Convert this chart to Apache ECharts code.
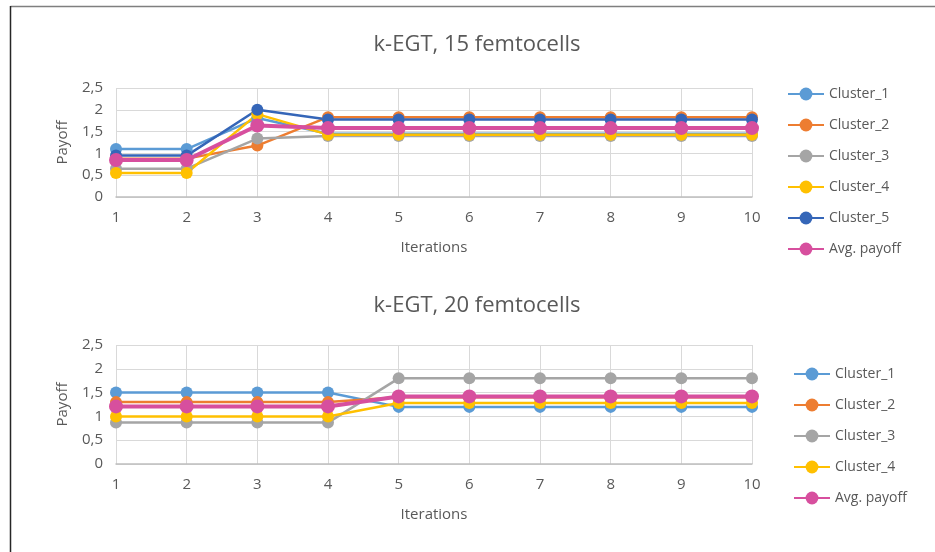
<!DOCTYPE html>
<html>
<head>
<meta charset="utf-8">
<script src="https://cdn.jsdelivr.net/npm/echarts@6/dist/echarts.min.js"></script>
<style>
  html, body { margin: 0; padding: 0; background: #fff; }
  #chart { width: 935px; height: 552px; }
</style>
</head>
<body>
<div id="chart"></div>
<script>
// Iterations on the x axis (shared by both panels)
const iterations = ['1', '2', '3', '4', '5', '6', '7', '8', '9', '10'];

// Panel 1: 15 femtocells
const title15 = 'k-EGT, 15 femtocells';
const c15_cluster1 = [1.10, 1.10, 1.81, 1.45, 1.45, 1.45, 1.45, 1.45, 1.45, 1.45];
const c15_cluster2 = [0.88, 0.88, 1.18, 1.83, 1.83, 1.83, 1.83, 1.83, 1.83, 1.83];
const c15_cluster3 = [0.65, 0.65, 1.34, 1.40, 1.40, 1.40, 1.40, 1.40, 1.40, 1.40];
const c15_cluster4 = [0.55, 0.55, 1.90, 1.43, 1.43, 1.43, 1.43, 1.43, 1.43, 1.43];
const c15_cluster5 = [0.95, 0.95, 2.00, 1.78, 1.78, 1.78, 1.78, 1.78, 1.78, 1.78];
const c15_avg      = [0.85, 0.85, 1.64, 1.58, 1.58, 1.58, 1.58, 1.58, 1.58, 1.58];

// Panel 2: 20 femtocells
const title20 = 'k-EGT, 20 femtocells';
const c20_cluster1 = [1.50, 1.50, 1.50, 1.50, 1.20, 1.20, 1.20, 1.20, 1.20, 1.20];
const c20_cluster2 = [1.30, 1.30, 1.30, 1.30, 1.40, 1.40, 1.40, 1.40, 1.40, 1.40];
const c20_cluster3 = [0.87, 0.87, 0.87, 0.87, 1.80, 1.80, 1.80, 1.80, 1.80, 1.80];
const c20_cluster4 = [1.00, 1.00, 1.00, 1.00, 1.28, 1.28, 1.28, 1.28, 1.28, 1.28];
const c20_avg      = [1.21, 1.21, 1.21, 1.21, 1.42, 1.42, 1.42, 1.42, 1.42, 1.42];

const seriesNames = ['Cluster_1', 'Cluster_2', 'Cluster_3', 'Cluster_4', 'Cluster_5', 'Avg. payoff'];
const colors = {
  'Cluster_1': '#5B9BD5',
  'Cluster_2': '#ED7D31',
  'Cluster_3': '#A5A5A5',
  'Cluster_4': '#FFC000',
  'Cluster_5': '#3566B8',
  'Avg. payoff': '#D74F9E'
};

const FONT = 'Open Sans';
const TXT = '#595959';
const GRIDC = '#D9D9D9';

function makeSeries(name, data, idx) {
  const avg = name === 'Avg. payoff';
  return {
    name: name,
    type: 'line',
    xAxisIndex: idx,
    yAxisIndex: idx,
    data: data,
    symbol: 'circle',
    symbolSize: avg ? 14 : 12,
    showSymbol: true,
    color: colors[name],
    lineStyle: { width: avg ? 4 : 2.5, color: colors[name] },
    itemStyle: { color: colors[name] },
    emphasis: { disabled: true },
    animation: false,
    z: avg ? 5 : 3
  };
}

function xAxis(idx) {
  return {
    type: 'category',
    gridIndex: idx,
    data: iterations,
    boundaryGap: false,
    name: 'Iterations',
    nameLocation: 'middle',
    nameGap: 43,
    nameTextStyle: { fontFamily: FONT, fontSize: 15, color: TXT },
    axisLine: { lineStyle: { color: '#BFBFBF', width: 1.5 } },
    axisTick: { show: false },
    axisLabel: { fontFamily: FONT, fontSize: 15, color: TXT, margin: 13 },
    splitLine: { show: true, lineStyle: { color: GRIDC, width: 1 } }
  };
}

function yAxis(idx) {
  return {
    type: 'value',
    gridIndex: idx,
    min: 0,
    max: 2.5,
    interval: 0.5,
    name: 'Payoff',
    nameLocation: 'middle',
    nameGap: 46,
    nameTextStyle: { fontFamily: FONT, fontSize: 15, color: TXT },
    axisLine: { show: false },
    axisTick: { show: false },
    axisLabel: {
      fontFamily: FONT, fontSize: 15, color: TXT, margin: 13,
      formatter: v => String(v).replace('.', ',')
    },
    splitLine: { show: true, lineStyle: { color: GRIDC, width: 1 } }
  };
}

const legendText = { fontFamily: FONT, fontSize: 14, color: TXT };

const option = {
  backgroundColor: '#fff',
  animation: false,
  title: [
    { text: title15, left: 472, top: 29, textAlign: 'center',
      textStyle: { fontFamily: FONT, fontSize: 22, fontWeight: 'normal', color: TXT } },
    { text: title20, left: 472, top: 290, textAlign: 'center',
      textStyle: { fontFamily: FONT, fontSize: 22, fontWeight: 'normal', color: TXT } }
  ],
  grid: [
    { left: 116, top: 88, width: 636, height: 109 },
    { left: 116, top: 345, width: 636, height: 119 }
  ],
  xAxis: [xAxis(0), xAxis(1)],
  yAxis: [yAxis(0), yAxis(1)],
  legend: [
    { orient: 'vertical', left: 782, top: 82, itemGap: 17, itemWidth: 36, itemHeight: 16,
      data: seriesNames, textStyle: legendText, selectedMode: false },
    { orient: 'vertical', left: 788, top: 362, itemGap: 17, itemWidth: 36, itemHeight: 16,
      data: seriesNames.filter(n => n !== 'Cluster_5').map(n => ({ name: n })),
      textStyle: legendText, selectedMode: false }
  ],
  graphic: [
    { type: 'line', shape: { x1: 10.5, y1: 6.5, x2: 935, y2: 6.5 },
      style: { stroke: '#7F7F7F', lineWidth: 1.5 }, silent: true },
    { type: 'line', shape: { x1: 10.5, y1: 6, x2: 10.5, y2: 552 },
      style: { stroke: '#262626', lineWidth: 1.5 }, silent: true }
  ],
  series: [
    makeSeries('Cluster_1', c15_cluster1, 0),
    makeSeries('Cluster_2', c15_cluster2, 0),
    makeSeries('Cluster_3', c15_cluster3, 0),
    makeSeries('Cluster_4', c15_cluster4, 0),
    makeSeries('Cluster_5', c15_cluster5, 0),
    makeSeries('Avg. payoff', c15_avg, 0),
    makeSeries('Cluster_1', c20_cluster1, 1),
    makeSeries('Cluster_2', c20_cluster2, 1),
    makeSeries('Cluster_3', c20_cluster3, 1),
    makeSeries('Cluster_4', c20_cluster4, 1),
    makeSeries('Avg. payoff', c20_avg, 1)
  ]
};

const chart = echarts.init(document.getElementById('chart'), null, { renderer: 'canvas' });
chart.setOption(option);
</script>
</body>
</html>
